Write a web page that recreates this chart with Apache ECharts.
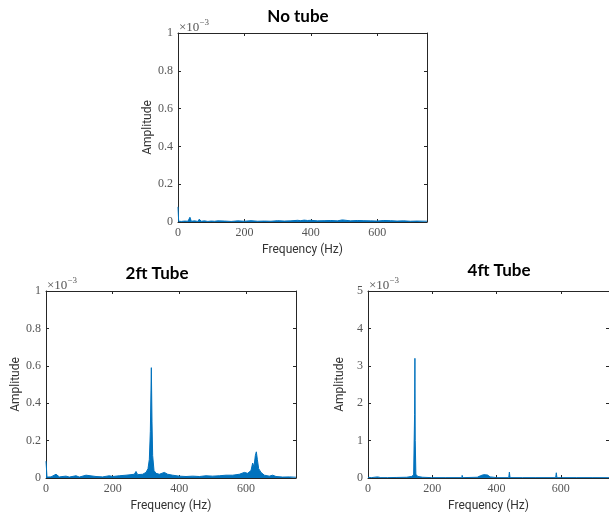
<!DOCTYPE html>
<html>
<head>
<meta charset="utf-8">
<script src="https://cdn.jsdelivr.net/npm/echarts@6/dist/echarts.min.js"></script>
<style>
    html, body { margin: 0; padding: 0; background: #fff; }
    #chart { width: 609px; height: 513px; }
</style>
</head>
<body>
<div id="chart"></div>
<script>
// 频谱数据 (幅值单位 ×10^-3)
const titles = ['No tube', '2ft Tube', '4ft Tube'];
const xTicks = [0, 200, 400, 600];

const noTubeFreq = [0, 2, 10, 20, 30, 36, 40, 50, 60, 64, 70, 80, 90, 100, 110, 120, 122, 126, 140, 160, 180, 200, 220, 240, 260, 280, 300, 320, 340, 360, 370, 380, 390, 400, 420, 440, 460, 480, 495, 500, 520, 540, 560, 580, 600, 620, 640, 660, 680, 700, 720, 750];
const noTubeAmp = [0.08, 0.004, 0.003, 0.005, 0.004, 0.025, 0.004, 0.006, 0.003, 0.015, 0.004, 0.006, 0.003, 0.005, 0.004, 0.006, 0.015, 0.004, 0.005, 0.003, 0.006, 0.004, 0.007, 0.004, 0.005, 0.004, 0.007, 0.005, 0.006, 0.009, 0.007, 0.010, 0.008, 0.009, 0.006, 0.007, 0.008, 0.006, 0.011, 0.008, 0.006, 0.008, 0.007, 0.006, 0.005, 0.008, 0.007, 0.005, 0.006, 0.004, 0.005, 0.004];

const tube2Freq = [0, 3, 15, 30, 35, 40, 60, 70, 90, 100, 120, 125, 150, 170, 190, 200, 220, 240, 255, 265, 270, 275, 290, 300, 306, 310, 313, 316, 318, 320, 324, 330, 340, 355, 365, 380, 400, 420, 440, 460, 480, 500, 520, 540, 560, 580, 595, 605, 615, 620, 624, 628, 631, 634, 638, 645, 655, 670, 680, 690, 710, 730, 750];
const tube2Amp = [0.09, 0.005, 0.006, 0.02, 0.018, 0.006, 0.01, 0.005, 0.012, 0.005, 0.015, 0.006, 0.008, 0.006, 0.012, 0.008, 0.012, 0.015, 0.018, 0.02, 0.035, 0.018, 0.02, 0.03, 0.05, 0.1, 0.25, 0.59, 0.3, 0.12, 0.04, 0.025, 0.02, 0.03, 0.02, 0.015, 0.01, 0.008, 0.01, 0.008, 0.012, 0.01, 0.012, 0.015, 0.015, 0.02, 0.03, 0.025, 0.04, 0.08, 0.06, 0.12, 0.14, 0.1, 0.05, 0.03, 0.015, 0.01, 0.015, 0.008, 0.005, 0.006, 0.004];

const tube4Freq = [0, 10, 30, 40, 60, 90, 120, 135, 142, 145, 146, 147, 149, 155, 170, 198, 199, 201, 240, 292, 293, 295, 340, 350, 355, 360, 365, 372, 380, 401, 402, 404, 438, 440, 442, 480, 520, 584, 586, 588, 602, 603, 605, 650, 700, 750];
const tube4Amp = [0.02, 0.01, 0.03, 0.01, 0.01, 0.015, 0.02, 0.04, 0.08, 1.7, 3.2, 1.0, 0.1, 0.04, 0.02, 0.01, 0.06, 0.01, 0.01, 0.01, 0.07, 0.01, 0.02, 0.06, 0.1, 0.09, 0.07, 0.08, 0.03, 0.01, 0.04, 0.01, 0.01, 0.16, 0.01, 0.01, 0.01, 0.01, 0.14, 0.01, 0.01, 0.05, 0.01, 0.01, 0.01, 0.01];

const yMax = [1, 1, 5];
const yStep = [0.2, 0.2, 1];

const zip = (f, a) => f.map((v, i) => [v, a[i]]);
const seriesData = [zip(noTubeFreq, noTubeAmp), zip(tube2Freq, tube2Amp), zip(tube4Freq, tube4Amp)];

const axisColor = '#262626';
const labelColor = '#555';
const lineColor = '#0072BD';

const grids = [
    { left: 178, top: 33, width: 249, height: 189 },
    { left: 46, top: 291, width: 250, height: 187 },
    { left: 368, top: 291, width: 248, height: 187 }
];
// 标题中心位置
const titlePos = [[298, 8], [157, 265], [499, 262]];

const xAxis = [], yAxis = [], series = [], graphic = [];
grids.forEach((g, i) => {
    // 底部x轴
    xAxis.push({
        type: 'value', gridIndex: i, min: 0, max: 750, interval: 200,
        name: 'Frequency (Hz)', nameLocation: 'middle', nameGap: 22,
        nameTextStyle: { fontFamily: 'Roboto', fontSize: 12, color: '#333' },
        axisLine: { onZero: false, lineStyle: { color: axisColor, width: 1 } },
        axisTick: { inside: true, length: 3, lineStyle: { color: axisColor } },
        axisLabel: { margin: 5, fontFamily: 'Liberation Serif', fontSize: 12, color: labelColor,
            showMaxLabel: false },
        splitLine: { show: false }
    });
    // 顶部x轴(边框)
    xAxis.push({
        type: 'value', gridIndex: i, min: 0, max: 750, interval: 200, position: 'top',
        axisLine: { onZero: false, lineStyle: { color: axisColor, width: 1 } },
        axisTick: { inside: true, length: 3, lineStyle: { color: axisColor } },
        axisLabel: { show: false }, splitLine: { show: false }
    });
    yAxis.push({
        type: 'value', gridIndex: i, min: 0, max: yMax[i], interval: yStep[i],
        name: 'Amplitude', nameLocation: 'middle', nameGap: 22,
        nameTextStyle: { fontFamily: 'Roboto', fontSize: 12, color: '#333' },
        axisLine: { show: true, onZero: false, lineStyle: { color: axisColor, width: 1 } },
        axisTick: { show: true, inside: true, length: 3, lineStyle: { color: axisColor } },
        axisLabel: { margin: 5, fontFamily: 'Liberation Serif', fontSize: 12, color: labelColor },
        splitLine: { show: false }
    });
    yAxis.push({
        type: 'value', gridIndex: i, min: 0, max: yMax[i], interval: yStep[i], position: 'right',
        axisLine: { show: true, onZero: false, lineStyle: { color: axisColor, width: 1 } },
        axisTick: { show: true, inside: true, length: 3, lineStyle: { color: axisColor } },
        axisLabel: { show: false }, splitLine: { show: false }
    });
    series.push({
        type: 'line', xAxisIndex: i * 2, yAxisIndex: i * 2, data: seriesData[i],
        showSymbol: false, symbol: 'none', sampling: 'none', clip: true,
        lineStyle: { color: lineColor, width: 1 },
        areaStyle: { color: lineColor, opacity: 1 }
    });
    // 标题
    graphic.push({
        type: 'text', x: titlePos[i][0], y: titlePos[i][1],
        style: { text: titles[i], font: 'bold 17px Lato', fill: '#000', textAlign: 'center' }
    });
    // ×10^-3 指数标记
    graphic.push({
        type: 'text', x: g.left + 1, y: g.top - 15,
        style: {
            text: '{a|×10}{b|−3}',
            rich: {
                a: { font: '13px "Liberation Serif"', fill: labelColor, verticalAlign: 'bottom' },
                b: { font: '9px "Liberation Serif"', fill: labelColor, padding: [0, 0, 7, 0] }
            }
        }
    });
});

const chart = echarts.init(document.getElementById('chart'));
chart.setOption({
    animation: false,
    grid: grids,
    xAxis: xAxis,
    yAxis: yAxis,
    series: series,
    graphic: graphic
});
</script>
</body>
</html>
